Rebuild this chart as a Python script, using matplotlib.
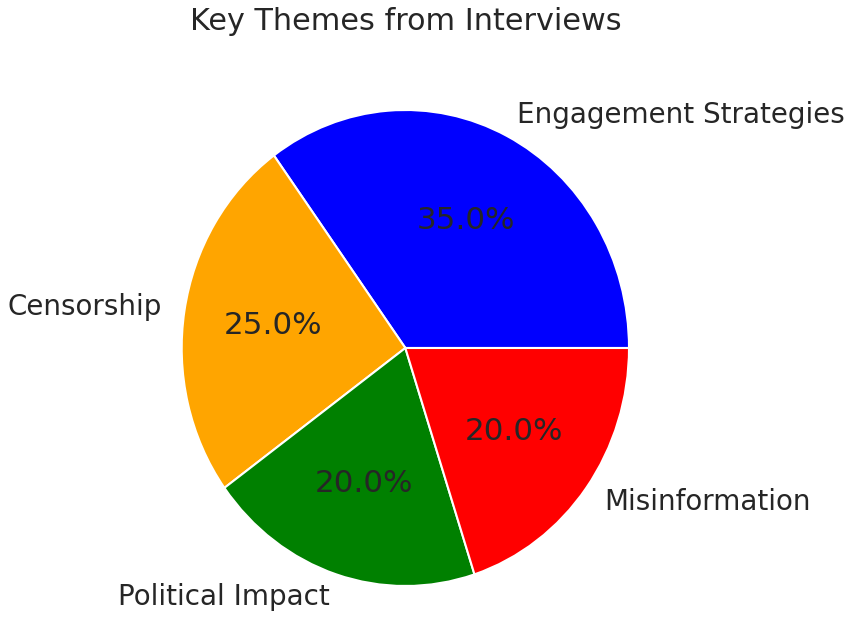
import matplotlib
matplotlib.use("Agg")
import matplotlib.pyplot as plt

labels = ["Engagement Strategies", "Censorship", "Political Impact", "Misinformation"]
values = [35, 25, 20, 20]
colors = ["blue", "orange", "green", "red"]
title = "Key Themes from Interviews"

W, H = 851, 621
fig = plt.figure(figsize=(W / 100, H / 100), dpi=100)
ax = fig.add_axes([181.7 / W, (H - 586) / H, 447.3 / W, 476 / H])

wedges, texts, autotexts = ax.pie(
    values, labels=labels, colors=colors, autopct="%1.1f%%",
    wedgeprops=dict(edgecolor="white", linewidth=1.5),
    textprops=dict(fontsize=20, color="#262626"),
)
for t in autotexts:
    t.set_fontsize(22.3)
ax.set_aspect("auto")
ax.set_xlim(-1, 1)
ax.set_ylim(-1, 1)

fig.text(405.4 / W, 1 - 21 / H, title, ha="center", va="center",
         fontsize=21.8, color="#262626")

fig.savefig("out.png", dpi=100)
